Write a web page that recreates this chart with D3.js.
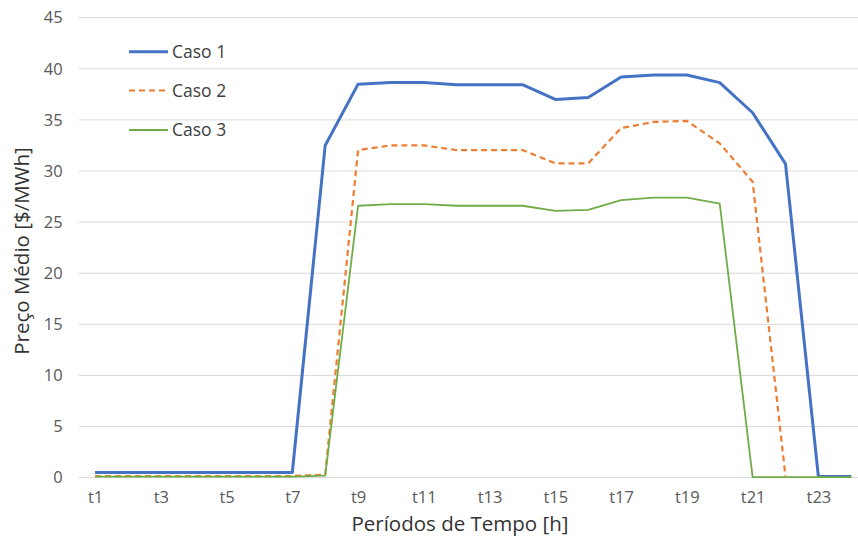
<!DOCTYPE html>
<html>
<head>
<meta charset="utf-8">
<script src="https://cdn.jsdelivr.net/npm/d3@7/dist/d3.min.js"></script>
<style>
  html, body { margin: 0; padding: 0; background: #fff; }
  svg { display: block; font-family: "Open Sans", "Noto Sans", sans-serif; }
</style>
</head>
<body>
<svg id="chart" width="858" height="537"></svg>
<script>
// Average price per hourly period for three cases
const periods = d3.range(1, 25).map(i => "t" + i);
const caso1 = [0.5, 0.5, 0.5, 0.5, 0.5, 0.5, 0.5, 32.5, 38.5, 38.65, 38.65, 38.45, 38.45, 38.45,
               37.0, 37.2, 39.2, 39.4, 39.4, 38.65, 35.7, 30.7, 0.1, 0.1];
const caso2 = [0.15, 0.15, 0.15, 0.15, 0.15, 0.15, 0.15, 0.3, 32.05, 32.5, 32.5, 32.05, 32.05, 32.05,
               30.75, 30.75, 34.2, 34.8, 34.9, 32.7, 28.95, 0.1, null, null];
const caso3 = [0.1, 0.1, 0.1, 0.1, 0.1, 0.1, 0.1, 0.2, 26.6, 26.75, 26.75, 26.6, 26.6, 26.6,
               26.1, 26.2, 27.15, 27.4, 27.4, 26.8, 0.05, 0.05, 0.05, 0.05];
const yTicks = [0, 5, 10, 15, 20, 25, 30, 35, 40, 45];
const xTickLabels = periods.filter((d, i) => i % 2 === 0);

const series = [
  { name: "Caso 1", values: caso1, color: "#4472C4", width: 3, dash: null },
  { name: "Caso 2", values: caso2, color: "#ED7D31", width: 2.2, dash: "6,4" },
  { name: "Caso 3", values: caso3, color: "#70AD47", width: 1.8, dash: null }
];

const svg = d3.select("#chart");
const plot = { left: 78.6, right: 867.7, top: 17.7, bottom: 477.6 };

const x = d3.scalePoint().domain(periods).range([plot.left, plot.right]).padding(0.5);
const y = d3.scaleLinear().domain([0, 45]).range([plot.bottom, plot.top]);

// horizontal gridlines
svg.append("g").selectAll("line").data(yTicks).join("line")
  .attr("x1", plot.left).attr("x2", 858)
  .attr("y1", d => y(d)).attr("y2", d => y(d))
  .attr("stroke", "#d9d9d9").attr("stroke-width", 1);

// y axis labels
const yAxis = d3.axisLeft(y).tickValues(yTicks).tickSize(0).tickPadding(16);
svg.append("g").attr("transform", `translate(${plot.left},0)`).call(yAxis)
  .call(g => g.select(".domain").remove())
  .call(g => g.selectAll("text").attr("fill", "#595959").style("font-size", "16.5px")
    .style("font-family", "'Open Sans', sans-serif"));

// x axis labels (every other period)
const xAxis = d3.axisBottom(x).tickValues(xTickLabels).tickSize(0).tickPadding(14);
svg.append("g").attr("transform", `translate(0,${plot.bottom})`).call(xAxis)
  .call(g => g.select(".domain").remove())
  .call(g => g.selectAll("text").attr("fill", "#595959").style("font-size", "16.5px")
    .style("font-family", "'Open Sans', sans-serif"));

// lines
const line = d3.line()
  .defined(d => d.v !== null)
  .x(d => x(d.p)).y(d => y(d.v));

series.forEach(s => {
  svg.append("path")
    .datum(s.values.map((v, i) => ({ p: periods[i], v })))
    .attr("d", line)
    .attr("fill", "none")
    .attr("stroke", s.color)
    .attr("stroke-width", s.width)
    .attr("stroke-linejoin", "round")
    .attr("stroke-dasharray", s.dash);
});

// legend
const legend = svg.append("g");
const legendY = [51.7, 90.5, 130];
series.forEach((s, i) => {
  legend.append("line")
    .attr("x1", 129).attr("x2", 168)
    .attr("y1", legendY[i]).attr("y2", legendY[i])
    .attr("stroke", s.color).attr("stroke-width", s.width)
    .attr("stroke-dasharray", s.dash);
  legend.append("text")
    .attr("x", 172).attr("y", legendY[i])
    .attr("dy", "0.35em")
    .attr("fill", "#404040")
    .style("font-size", "17.5px")
    .text(s.name);
});

// axis titles
svg.append("text")
  .attr("x", 460).attr("y", 531)
  .attr("text-anchor", "middle")
  .attr("fill", "#333333")
  .style("font-size", "20.5px")
  .text("Períodos de Tempo [h]");

svg.append("text")
  .attr("transform", "translate(29,251) rotate(-90)")
  .attr("text-anchor", "middle")
  .attr("fill", "#333333")
  .style("font-size", "20.5px")
  .text("Preço Médio [$/MWh]");
</script>
</body>
</html>
